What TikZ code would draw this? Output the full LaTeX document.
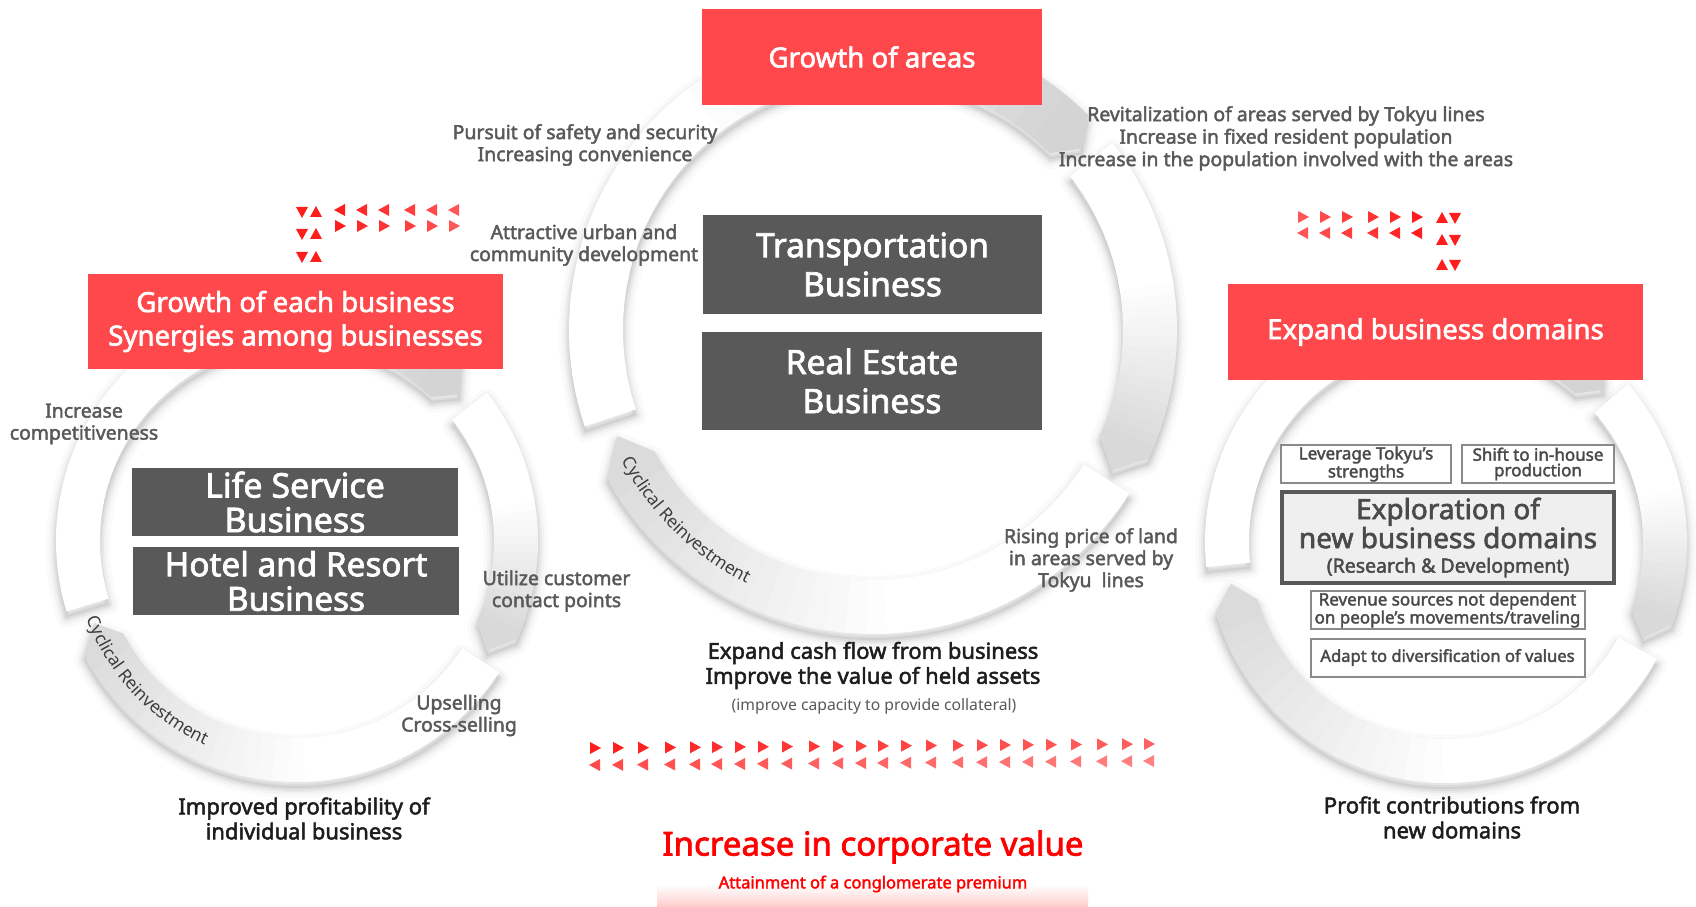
\documentclass[tikz,border=0pt]{standalone}
\usepackage{fontspec}
\setmainfont{Noto Sans}
\newfontfamily\medfont{Noto Sans}[FakeBold=2.2]
\usetikzlibrary{decorations.text}

\definecolor{tkred}{HTML}{FF484B}
\definecolor{tkdark}{HTML}{595959}
\definecolor{tklabel}{HTML}{595959}
\definecolor{tkcap}{HTML}{1E1E1E}
\definecolor{tktri}{HTML}{FF1E1E}
\definecolor{tkvalue}{HTML}{FF0000}
\definecolor{tkpink}{HTML}{FFCDCD}
\definecolor{tkbord}{HTML}{8A8A8A}
\definecolor{tksmall}{HTML}{4A4A4A}
\definecolor{tkexplore}{HTML}{EFEFEF}
\definecolor{tkcyc}{HTML}{3C3C3C}

% outline of one arrow segment of a ring:
% #1 inner r, #2 outer r, #3 tail angle, #4 shoulder angle, #5 tip angle
\newcommand{\segoutline}[5]{%
  (#3:#2) arc[start angle=#3, end angle=#4, radius=#2] -- (#5:{(#1+#2)/2})
  -- (#4:#1) arc[start angle=#4, end angle=#3, radius=#1] -- cycle}

% soft shadow cast downwards by a segment; #1,#2 centre
\newcommand{\segshadow}[7]{%
  \begin{scope}[shift={(#1,{#2-6})}]
    \fill[black, opacity=0.05] \segoutline{#3}{#4}{#5}{#6}{#7};
    \foreach \w/\o in {20/0.018, 13/0.028, 8/0.038, 4/0.05} {
      \draw[line width=\w pt, black, opacity=\o, line join=round]
        \segoutline{#3}{#4}{#5}{#6}{#7};
    }
  \end{scope}}

% body of a segment, white at the tail turning grey towards the head
% #1,#2 centre, #3 inner r, #4 outer r, #5 tail, #6 shoulder, #7 tip, #8 grey at head
\newcommand{\segbody}[8]{%
  \begin{scope}[shift={(#1,#2)}]
    \foreach \k in {0,...,29} {
      \pgfmathsetmacro\segA{#5-(#5-#6)*\k/30+(\k>0)*0.4}
      \pgfmathsetmacro\segB{#5-(#5-#6)*(\k+1)/30}
      \pgfmathsetmacro\segG{max(0,(\k/29-0.45)/0.55)*#8}
      \fill[black!\segG!white]
        (\segA:#4) arc[start angle=\segA, end angle=\segB, radius=#4]
        -- (\segB:#3) arc[start angle=\segB, end angle=\segA, radius=#3] -- cycle;
    }
    \fill[black!#8!white]
      ({#6+0.4}:#4) arc[start angle={#6+0.4}, end angle=#6, radius=#4]
      -- (#7:{(#3+#4)/2}) -- (#6:#3)
      arc[start angle=#6, end angle={#6+0.4}, radius=#3] -- cycle;
  \end{scope}}

% small red triangles, given in picture pixels (y measured from the top)
\newcommand{\triR}[3]{\fill[tktri, opacity=#3] ({#1-5},{906-#2+6}) -- ({#1+6},{906-#2}) -- ({#1-5},{906-#2-6}) -- cycle;}
\newcommand{\triL}[3]{\fill[tktri, opacity=#3] ({#1+5},{906-#2+6}) -- ({#1-6},{906-#2}) -- ({#1+5},{906-#2-6}) -- cycle;}
\newcommand{\triD}[3]{\fill[tktri, opacity=#3] ({#1-6},{906-#2+5}) -- ({#1+6},{906-#2+5}) -- ({#1},{906-#2-6}) -- cycle;}
\newcommand{\triU}[3]{\fill[tktri, opacity=#3] ({#1-6},{906-#2-5}) -- ({#1+6},{906-#2-5}) -- ({#1},{906-#2+6}) -- cycle;}

\begin{document}
\begin{tikzpicture}[x=1pt, y=1pt,
  redbox/.style={fill=tkred, text=white, align=center, inner sep=0pt,
    font=\medfont\fontsize{27.6}{33.5}\selectfont},
  darkbox/.style={fill=tkdark, text=white, align=center, inner sep=0pt,
    font=\medfont\fontsize{33.5}{39}\selectfont},
  smallbox/.style={draw=tkbord, line width=2pt, fill=white, text=tksmall,
    align=center, inner sep=0pt, font=\medfont\fontsize{17}{15.5}\selectfont},
  lbl/.style={text=tklabel, align=center, inner sep=0pt,
    font=\medfont\fontsize{19.4}{22}\selectfont},
  caption/.style={text=tkcap, align=center, inner sep=0pt,
    font=\medfont\fontsize{22}{25}\selectfont},
  cyc/.style={decorate, decoration={text along path, text align=center,
    text={|\fontsize{17.5}{17.5}\selectfont\color{tkcyc}|Cyclical Reinvestment}}}
]
\useasboundingbox (0,0) rectangle (1696,906);
\fill[white] (0,0) rectangle (1696,906);

% ---------- rings: shadows first ----------
% centre ring (873,576), r 250..304
\segshadow{873}{576}{250}{304}{198.5}{45}{41}
\segshadow{873}{576}{250}{304}{38}{-25}{-30.5}
\segshadow{873}{576}{250}{304}{327.5}{209}{202.5}
% left ring (297,365), r 197..241
\segshadow{297}{365}{197}{241}{197}{47}{42}
\segshadow{297}{365}{197}{241}{38}{-24}{-30}
\segshadow{297}{365}{197}{241}{327}{208}{202}
% right ring (1446,364), r 197..241
\segshadow{1446}{364}{197}{241}{186}{49}{44}
\segshadow{1446}{364}{197}{241}{41}{-20}{-26}
\segshadow{1446}{364}{197}{241}{331}{197}{191}

% ---------- rings: bodies ----------
\segbody{873}{576}{250}{304}{198.5}{45}{41}{17}
\segbody{873}{576}{250}{304}{38}{-25}{-30.5}{15}
\segbody{873}{576}{250}{304}{327.5}{209}{202.5}{14}
\segbody{297}{365}{197}{241}{197}{47}{42}{17}
\segbody{297}{365}{197}{241}{38}{-24}{-30}{15}
\segbody{297}{365}{197}{241}{327}{208}{202}{14}
\segbody{1446}{364}{197}{241}{186}{49}{44}{17}
\segbody{1446}{364}{197}{241}{41}{-20}{-26}{15}
\segbody{1446}{364}{197}{241}{331}{197}{191}{14}

% text running along the lower-left segments
\begin{scope}[shift={(873,576)}]
  \path[cyc] (204:283) arc[start angle=204, end angle=247, radius=283];
\end{scope}
\begin{scope}[shift={(297,365)}]
  \path[cyc] (196:224) arc[start angle=196, end angle=250, radius=224];
\end{scope}

% ---------- headline boxes ----------
\node[redbox, minimum width=340, minimum height=96] (growthareas) at (872,849) {Growth of areas};
\node[redbox, minimum width=415, minimum height=95] (growthbiz) at (295.5,584.5)
  {Growth of each business\\Synergies among businesses};
\node[redbox, minimum width=415, minimum height=96] (expanddom) at (1435.5,574) {Expand business domains};

% ---------- business boxes ----------
\node[darkbox, minimum width=339, minimum height=99] (transport) at (872.5,641.5) {Transportation\\Business};
\node[darkbox, minimum width=340, minimum height=98] (realestate) at (872,525) {Real Estate\\Business};
\node[darkbox, minimum width=326, minimum height=68, font=\medfont\fontsize{34}{34.5}\selectfont]
  (lifeservice) at (295,404) {Life Service\\Business};
\node[darkbox, minimum width=326, minimum height=68, font=\medfont\fontsize{33.3}{34.5}\selectfont]
  (hotel) at (296,325) {Hotel and Resort\\Business};

% ---------- new domain boxes ----------
\node[smallbox, minimum width=170, minimum height=38] (leverage) at (1366,442) {Leverage Tokyu’s\\strengths};
\node[smallbox, minimum width=152, minimum height=38] (inhouse) at (1538,442) {Shift to in-house\\production};
\node[draw=tkdark, line width=3.5pt, fill=tkexplore, text=tksmall, align=center, inner sep=0pt,
  minimum width=332, minimum height=91, font=\medfont\fontsize{28}{25.5}\selectfont] (explore) at (1448,368.5)
  {Exploration of\\new business domains\\[-1pt]
   \fontsize{19.5}{22}\selectfont (Research \& Development)};
\node[smallbox, minimum width=274, minimum height=38] (revenue) at (1447.5,296)
  {Revenue sources not dependent\\on people’s movements/traveling};
\node[smallbox, minimum width=274, minimum height=38, font=\medfont\fontsize{16.6}{15.5}\selectfont] (adapt) at (1447.5,248.5)
  {Adapt to diversification of values};

% ---------- labels around the rings ----------
\node[lbl] (safety) at (585,761) {Pursuit of safety and security\\Increasing convenience};
\node[lbl] (urban) at (584,661) {Attractive urban and\\community development};
\node[lbl, font=\medfont\fontsize{19.4}{22.5}\selectfont] (revital) at (1286,767.5)
  {Revitalization of areas served by Tokyu lines\\Increase in fixed resident population\\Increase in the population involved with the areas};
\node[lbl] (compet) at (84,482) {Increase\\competitiveness};
\node[lbl] (contact) at (556.5,315) {Utilize customer\\contact points};
\node[lbl] (upsell) at (459,190.5) {Upselling\\Cross-selling};
\node[lbl] (landprice) at (1091,346) {Rising price of land\\in areas served by\\Tokyu~ lines};

% ---------- captions under the rings ----------
\node[caption] (cashflow) at (873,240.5) {Expand cash flow from business\\Improve the value of held assets};
\node[text=tklabel, inner sep=0pt, font=\fontsize{15.7}{18}\selectfont] (collateral) at (874,200)
  {(improve capacity to provide collateral)};
\node[caption] (profitab) at (304,87.5) {Improved profitability of\\individual business};
\node[caption] (newdom) at (1452,88.5) {Profit contributions from\\new domains};

% ---------- corporate value ----------
\shade[top color=white, bottom color=tkpink] (657,0) rectangle (1088,21);
\node[text=tkvalue, inner sep=0pt, font=\medfont\fontsize{33}{38}\selectfont] (corpvalue) at (873,59)
  {Increase in corporate value};
\node[text=tkvalue, inner sep=0pt, font=\medfont\fontsize{16.5}{20}\selectfont] (premium) at (873,22)
  {Attainment of a conglomerate premium};

% ---------- red triangle trails ----------
% between the left ring and the centre ring
\foreach \yy in {212,234,257} { \triD{302}{\yy}{1} \triU{316}{\yy}{1} }
\foreach \xx [count=\i] in {340,362,384,410,432,454} {
  \pgfmathsetmacro\op{1-0.25*(\i-1)/5}
  \triL{\xx}{210}{\op} \triR{\xx}{226}{\op} }
% between the centre ring and the right ring
\foreach \xx [count=\i] in {1303,1325,1347,1373,1395,1417} {
  \pgfmathsetmacro\op{0.75+0.25*(\i-1)/5}
  \triR{\xx}{217}{\op} \triL{\xx}{233}{\op} }
\foreach \yy in {218,240,265} { \triU{1442}{\yy}{1} \triD{1455}{\yy}{1} }
% below the centre ring
\foreach \xx [count=\i] in {595,618,643,670,695,717,740,763,787,814,838,861,883,906,931,958,982,1005,1028,1051,1076,1102,1127,1149} {
  \pgfmathsetmacro\op{1-0.3*(\i-1)/23}
  \pgfmathsetmacro\ya{748-4*(\i-1)/23}
  \pgfmathsetmacro\yb{765-4*(\i-1)/23}
  \triR{\xx}{\ya}{\op} \triL{\xx}{\yb}{0.8*\op} }
\end{tikzpicture}
\end{document}
